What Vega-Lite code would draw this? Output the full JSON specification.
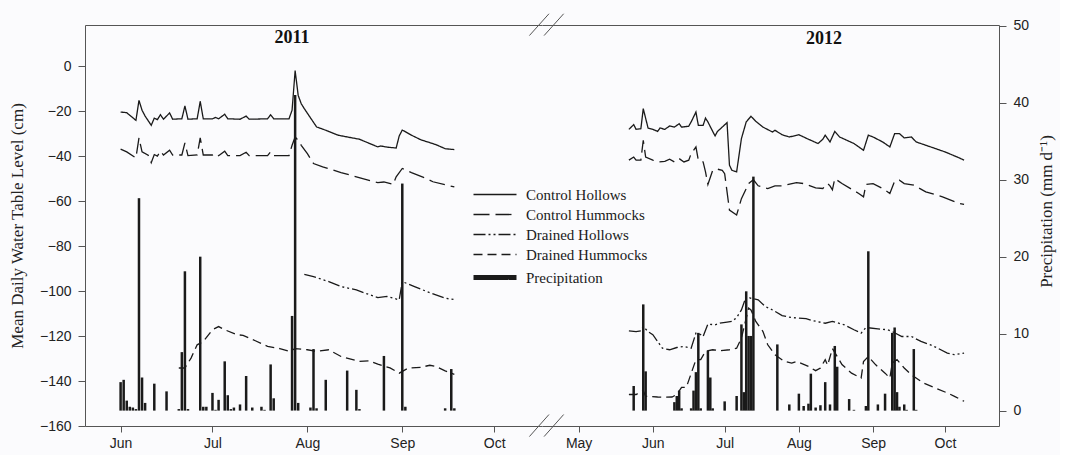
{
  "$schema": "https://vega.github.io/schema/vega-lite/v6.json",
  "background": "#fbfbfd",
  "padding": {"left": 8, "top": 13, "right": 5, "bottom": 5},
  "spacing": 0,
  "bounds": "flush",
  "config": {
    "view": {"stroke": null},
    "font": "Liberation Sans",
    "axis": {"grid": false, "domainColor": "#555", "tickColor": "#555", "labelColor": "#222", "labelFont": "Liberation Sans", "labelFontSize": 14, "titleFont": "Liberation Serif", "titleFontWeight": "normal", "titleColor": "#222", "titleFontSize": 17}
  },
  "datasets": {
    "wt2011": [
      {"d":"2011-06-01","s":"Control Hollows","v":-20.4},{"d":"2011-06-03","s":"Control Hollows","v":-20.7},{"d":"2011-06-06","s":"Control Hollows","v":-24.1},{"d":"2011-06-07","s":"Control Hollows","v":-15.2},{"d":"2011-06-08","s":"Control Hollows","v":-19.6},{"d":"2011-06-09","s":"Control Hollows","v":-22.2},{"d":"2011-06-11","s":"Control Hollows","v":-26.3},{"d":"2011-06-12","s":"Control Hollows","v":-23.1},{"d":"2011-06-13","s":"Control Hollows","v":-23.8},{"d":"2011-06-14","s":"Control Hollows","v":-21.6},{"d":"2011-06-15","s":"Control Hollows","v":-23.6},{"d":"2011-06-17","s":"Control Hollows","v":-20.8},{"d":"2011-06-18","s":"Control Hollows","v":-23.6},{"d":"2011-06-21","s":"Control Hollows","v":-23.4},{"d":"2011-06-22","s":"Control Hollows","v":-17.7},{"d":"2011-06-23","s":"Control Hollows","v":-23.6},{"d":"2011-06-26","s":"Control Hollows","v":-23.4},{"d":"2011-06-27","s":"Control Hollows","v":-15.7},{"d":"2011-06-28","s":"Control Hollows","v":-23.4},{"d":"2011-07-01","s":"Control Hollows","v":-23.4},{"d":"2011-07-02","s":"Control Hollows","v":-22.8},{"d":"2011-07-03","s":"Control Hollows","v":-23.4},{"d":"2011-07-05","s":"Control Hollows","v":-21.4},{"d":"2011-07-06","s":"Control Hollows","v":-23.4},{"d":"2011-07-10","s":"Control Hollows","v":-23.6},{"d":"2011-07-12","s":"Control Hollows","v":-22.2},{"d":"2011-07-13","s":"Control Hollows","v":-23.6},{"d":"2011-07-19","s":"Control Hollows","v":-23.4},{"d":"2011-07-20","s":"Control Hollows","v":-21.6},{"d":"2011-07-21","s":"Control Hollows","v":-23.4},{"d":"2011-07-26","s":"Control Hollows","v":-23.4},{"d":"2011-07-27","s":"Control Hollows","v":-19.6},{"d":"2011-07-28","s":"Control Hollows","v":-2.0},{"d":"2011-07-29","s":"Control Hollows","v":-13.0},{"d":"2011-07-30","s":"Control Hollows","v":-16.7},{"d":"2011-07-31","s":"Control Hollows","v":-18.9},{"d":"2011-08-04","s":"Control Hollows","v":-27.0},{"d":"2011-08-07","s":"Control Hollows","v":-28.5},{"d":"2011-08-11","s":"Control Hollows","v":-30.7},{"d":"2011-08-18","s":"Control Hollows","v":-32.5},{"d":"2011-08-24","s":"Control Hollows","v":-35.9},{"d":"2011-08-25","s":"Control Hollows","v":-35.5},{"d":"2011-08-27","s":"Control Hollows","v":-36.0},{"d":"2011-08-30","s":"Control Hollows","v":-36.4},{"d":"2011-08-31","s":"Control Hollows","v":-31.0},{"d":"2011-09-01","s":"Control Hollows","v":-28.4},{"d":"2011-09-04","s":"Control Hollows","v":-30.7},{"d":"2011-09-07","s":"Control Hollows","v":-32.7},{"d":"2011-09-12","s":"Control Hollows","v":-34.9},{"d":"2011-09-15","s":"Control Hollows","v":-36.7},{"d":"2011-09-18","s":"Control Hollows","v":-37.1},
      {"d":"2011-06-01","s":"Control Hummocks","v":-36.9},{"d":"2011-06-03","s":"Control Hummocks","v":-38.1},{"d":"2011-06-06","s":"Control Hummocks","v":-40.8},{"d":"2011-06-07","s":"Control Hummocks","v":-31.9},{"d":"2011-06-08","s":"Control Hummocks","v":-38.1},{"d":"2011-06-10","s":"Control Hummocks","v":-39.6},{"d":"2011-06-11","s":"Control Hummocks","v":-42.9},{"d":"2011-06-12","s":"Control Hummocks","v":-39.3},{"d":"2011-06-13","s":"Control Hummocks","v":-40.0},{"d":"2011-06-14","s":"Control Hummocks","v":-37.8},{"d":"2011-06-15","s":"Control Hummocks","v":-39.5},{"d":"2011-06-17","s":"Control Hummocks","v":-37.4},{"d":"2011-06-18","s":"Control Hummocks","v":-39.5},{"d":"2011-06-21","s":"Control Hummocks","v":-39.5},{"d":"2011-06-22","s":"Control Hummocks","v":-34.1},{"d":"2011-06-23","s":"Control Hummocks","v":-39.8},{"d":"2011-06-26","s":"Control Hummocks","v":-39.5},{"d":"2011-06-27","s":"Control Hummocks","v":-31.9},{"d":"2011-06-28","s":"Control Hummocks","v":-39.5},{"d":"2011-07-01","s":"Control Hummocks","v":-39.5},{"d":"2011-07-02","s":"Control Hummocks","v":-38.8},{"d":"2011-07-03","s":"Control Hummocks","v":-39.8},{"d":"2011-07-05","s":"Control Hummocks","v":-37.8},{"d":"2011-07-06","s":"Control Hummocks","v":-39.8},{"d":"2011-07-10","s":"Control Hummocks","v":-39.8},{"d":"2011-07-12","s":"Control Hummocks","v":-38.3},{"d":"2011-07-13","s":"Control Hummocks","v":-39.8},{"d":"2011-07-19","s":"Control Hummocks","v":-39.8},{"d":"2011-07-20","s":"Control Hummocks","v":-38.1},{"d":"2011-07-21","s":"Control Hummocks","v":-39.8},{"d":"2011-07-26","s":"Control Hummocks","v":-39.8},{"d":"2011-07-27","s":"Control Hummocks","v":-35.2},{"d":"2011-07-28","s":"Control Hummocks","v":-31.5},{"d":"2011-07-29","s":"Control Hummocks","v":-33.0},{"d":"2011-07-30","s":"Control Hummocks","v":-35.2},{"d":"2011-08-01","s":"Control Hummocks","v":-38.9},{"d":"2011-08-03","s":"Control Hummocks","v":-43.3},{"d":"2011-08-06","s":"Control Hummocks","v":-44.8},{"d":"2011-08-12","s":"Control Hummocks","v":-47.3},{"d":"2011-08-17","s":"Control Hummocks","v":-49.2},{"d":"2011-08-24","s":"Control Hummocks","v":-51.8},{"d":"2011-08-26","s":"Control Hummocks","v":-51.5},{"d":"2011-08-29","s":"Control Hummocks","v":-52.6},{"d":"2011-08-30","s":"Control Hummocks","v":-49.2},{"d":"2011-09-01","s":"Control Hummocks","v":-45.5},{"d":"2011-09-04","s":"Control Hummocks","v":-47.3},{"d":"2011-09-09","s":"Control Hummocks","v":-50.0},{"d":"2011-09-11","s":"Control Hummocks","v":-51.4},{"d":"2011-09-18","s":"Control Hummocks","v":-53.7},
      {"d":"2011-07-31","s":"Drained Hollows","v":-92.6},{"d":"2011-08-03","s":"Drained Hollows","v":-93.6},{"d":"2011-08-08","s":"Drained Hollows","v":-95.8},{"d":"2011-08-12","s":"Drained Hollows","v":-98.0},{"d":"2011-08-17","s":"Drained Hollows","v":-99.5},{"d":"2011-08-20","s":"Drained Hollows","v":-101.0},{"d":"2011-08-24","s":"Drained Hollows","v":-102.9},{"d":"2011-08-27","s":"Drained Hollows","v":-102.4},{"d":"2011-08-31","s":"Drained Hollows","v":-103.9},{"d":"2011-09-01","s":"Drained Hollows","v":-95.8},{"d":"2011-09-05","s":"Drained Hollows","v":-98.0},{"d":"2011-09-09","s":"Drained Hollows","v":-100.2},{"d":"2011-09-15","s":"Drained Hollows","v":-103.2},{"d":"2011-09-18","s":"Drained Hollows","v":-103.8},
      {"d":"2011-06-20","s":"Drained Hummocks","v":-134.2},{"d":"2011-06-22","s":"Drained Hummocks","v":-134.2},{"d":"2011-06-24","s":"Drained Hummocks","v":-129.8},{"d":"2011-06-26","s":"Drained Hummocks","v":-123.9},{"d":"2011-06-28","s":"Drained Hummocks","v":-122.4},{"d":"2011-07-01","s":"Drained Hummocks","v":-117.2},{"d":"2011-07-03","s":"Drained Hummocks","v":-115.8},{"d":"2011-07-05","s":"Drained Hummocks","v":-117.2},{"d":"2011-07-09","s":"Drained Hummocks","v":-119.4},{"d":"2011-07-11","s":"Drained Hummocks","v":-119.7},{"d":"2011-07-15","s":"Drained Hummocks","v":-122.1},{"d":"2011-07-19","s":"Drained Hummocks","v":-124.6},{"d":"2011-07-23","s":"Drained Hummocks","v":-125.6},{"d":"2011-07-26","s":"Drained Hummocks","v":-126.8},{"d":"2011-07-28","s":"Drained Hummocks","v":-125.6},{"d":"2011-08-01","s":"Drained Hummocks","v":-126.1},{"d":"2011-08-04","s":"Drained Hummocks","v":-126.8},{"d":"2011-08-08","s":"Drained Hummocks","v":-126.1},{"d":"2011-08-12","s":"Drained Hummocks","v":-129.1},{"d":"2011-08-18","s":"Drained Hummocks","v":-131.3},{"d":"2011-08-21","s":"Drained Hummocks","v":-131.0},{"d":"2011-08-24","s":"Drained Hummocks","v":-132.5},{"d":"2011-08-28","s":"Drained Hummocks","v":-134.2},{"d":"2011-08-31","s":"Drained Hummocks","v":-136.5},{"d":"2011-09-03","s":"Drained Hummocks","v":-134.2},{"d":"2011-09-07","s":"Drained Hummocks","v":-133.9},{"d":"2011-09-10","s":"Drained Hummocks","v":-133.0},{"d":"2011-09-12","s":"Drained Hummocks","v":-133.5},{"d":"2011-09-15","s":"Drained Hummocks","v":-135.5},{"d":"2011-09-18","s":"Drained Hummocks","v":-137.0}
    ],
    "wt2012": [
      {"d":"2012-05-22","s":"Control Hollows","v":-28.1},{"d":"2012-05-24","s":"Control Hollows","v":-26.0},{"d":"2012-05-25","s":"Control Hollows","v":-28.1},{"d":"2012-05-27","s":"Control Hollows","v":-27.8},{"d":"2012-05-28","s":"Control Hollows","v":-18.9},{"d":"2012-05-30","s":"Control Hollows","v":-27.5},{"d":"2012-06-01","s":"Control Hollows","v":-28.1},{"d":"2012-06-03","s":"Control Hollows","v":-29.0},{"d":"2012-06-04","s":"Control Hollows","v":-27.5},{"d":"2012-06-06","s":"Control Hollows","v":-28.1},{"d":"2012-06-08","s":"Control Hollows","v":-26.6},{"d":"2012-06-10","s":"Control Hollows","v":-27.1},{"d":"2012-06-12","s":"Control Hollows","v":-25.6},{"d":"2012-06-13","s":"Control Hollows","v":-27.1},{"d":"2012-06-16","s":"Control Hollows","v":-26.7},{"d":"2012-06-17","s":"Control Hollows","v":-24.8},{"d":"2012-06-19","s":"Control Hollows","v":-20.4},{"d":"2012-06-20","s":"Control Hollows","v":-26.3},{"d":"2012-06-22","s":"Control Hollows","v":-26.3},{"d":"2012-06-23","s":"Control Hollows","v":-23.1},{"d":"2012-06-24","s":"Control Hollows","v":-24.8},{"d":"2012-06-26","s":"Control Hollows","v":-29.0},{"d":"2012-06-27","s":"Control Hollows","v":-31.0},{"d":"2012-06-28","s":"Control Hollows","v":-29.0},{"d":"2012-06-30","s":"Control Hollows","v":-27.1},{"d":"2012-07-02","s":"Control Hollows","v":-25.1},{"d":"2012-07-03","s":"Control Hollows","v":-44.0},{"d":"2012-07-04","s":"Control Hollows","v":-46.3},{"d":"2012-07-06","s":"Control Hollows","v":-47.0},{"d":"2012-07-08","s":"Control Hollows","v":-32.2},{"d":"2012-07-10","s":"Control Hollows","v":-24.8},{"d":"2012-07-12","s":"Control Hollows","v":-22.3},{"d":"2012-07-14","s":"Control Hollows","v":-24.5},{"d":"2012-07-17","s":"Control Hollows","v":-27.1},{"d":"2012-07-21","s":"Control Hollows","v":-29.3},{"d":"2012-07-22","s":"Control Hollows","v":-28.5},{"d":"2012-07-25","s":"Control Hollows","v":-30.5},{"d":"2012-07-28","s":"Control Hollows","v":-31.5},{"d":"2012-08-01","s":"Control Hollows","v":-30.5},{"d":"2012-08-03","s":"Control Hollows","v":-31.5},{"d":"2012-08-05","s":"Control Hollows","v":-32.5},{"d":"2012-08-09","s":"Control Hollows","v":-34.4},{"d":"2012-08-11","s":"Control Hollows","v":-32.5},{"d":"2012-08-12","s":"Control Hollows","v":-30.7},{"d":"2012-08-14","s":"Control Hollows","v":-33.7},{"d":"2012-08-16","s":"Control Hollows","v":-29.0},{"d":"2012-08-18","s":"Control Hollows","v":-31.5},{"d":"2012-08-24","s":"Control Hollows","v":-34.4},{"d":"2012-08-28","s":"Control Hollows","v":-37.4},{"d":"2012-08-30","s":"Control Hollows","v":-30.7},{"d":"2012-09-01","s":"Control Hollows","v":-31.5},{"d":"2012-09-05","s":"Control Hollows","v":-33.7},{"d":"2012-09-08","s":"Control Hollows","v":-35.9},{"d":"2012-09-10","s":"Control Hollows","v":-30.0},{"d":"2012-09-12","s":"Control Hollows","v":-30.0},{"d":"2012-09-14","s":"Control Hollows","v":-31.9},{"d":"2012-09-17","s":"Control Hollows","v":-31.5},{"d":"2012-09-19","s":"Control Hollows","v":-33.7},{"d":"2012-10-01","s":"Control Hollows","v":-38.1},{"d":"2012-10-07","s":"Control Hollows","v":-40.8},{"d":"2012-10-09","s":"Control Hollows","v":-41.8},
      {"d":"2012-05-22","s":"Control Hummocks","v":-41.8},{"d":"2012-05-24","s":"Control Hummocks","v":-40.4},{"d":"2012-05-25","s":"Control Hummocks","v":-41.8},{"d":"2012-05-27","s":"Control Hummocks","v":-41.8},{"d":"2012-05-28","s":"Control Hummocks","v":-33.0},{"d":"2012-05-29","s":"Control Hummocks","v":-40.4},{"d":"2012-06-01","s":"Control Hummocks","v":-41.8},{"d":"2012-06-03","s":"Control Hummocks","v":-42.6},{"d":"2012-06-06","s":"Control Hummocks","v":-42.3},{"d":"2012-06-08","s":"Control Hummocks","v":-41.4},{"d":"2012-06-10","s":"Control Hummocks","v":-42.6},{"d":"2012-06-12","s":"Control Hummocks","v":-41.1},{"d":"2012-06-14","s":"Control Hummocks","v":-42.6},{"d":"2012-06-16","s":"Control Hummocks","v":-41.8},{"d":"2012-06-17","s":"Control Hummocks","v":-38.9},{"d":"2012-06-19","s":"Control Hummocks","v":-35.9},{"d":"2012-06-20","s":"Control Hummocks","v":-41.8},{"d":"2012-06-22","s":"Control Hummocks","v":-42.6},{"d":"2012-06-23","s":"Control Hummocks","v":-47.0},{"d":"2012-06-24","s":"Control Hummocks","v":-52.6},{"d":"2012-06-26","s":"Control Hummocks","v":-46.3},{"d":"2012-06-28","s":"Control Hummocks","v":-45.8},{"d":"2012-06-30","s":"Control Hummocks","v":-46.3},{"d":"2012-07-01","s":"Control Hummocks","v":-47.8},{"d":"2012-07-03","s":"Control Hummocks","v":-64.0},{"d":"2012-07-06","s":"Control Hummocks","v":-66.2},{"d":"2012-07-08","s":"Control Hummocks","v":-58.9},{"d":"2012-07-11","s":"Control Hummocks","v":-52.2},{"d":"2012-07-13","s":"Control Hummocks","v":-50.5},{"d":"2012-07-15","s":"Control Hummocks","v":-53.2},{"d":"2012-07-19","s":"Control Hummocks","v":-54.4},{"d":"2012-07-22","s":"Control Hummocks","v":-53.2},{"d":"2012-07-25","s":"Control Hummocks","v":-53.2},{"d":"2012-07-31","s":"Control Hummocks","v":-51.8},{"d":"2012-08-03","s":"Control Hummocks","v":-52.2},{"d":"2012-08-08","s":"Control Hummocks","v":-54.1},{"d":"2012-08-11","s":"Control Hummocks","v":-54.4},{"d":"2012-08-13","s":"Control Hummocks","v":-52.2},{"d":"2012-08-14","s":"Control Hummocks","v":-53.2},{"d":"2012-08-15","s":"Control Hummocks","v":-55.0},{"d":"2012-08-16","s":"Control Hummocks","v":-50.0},{"d":"2012-08-19","s":"Control Hummocks","v":-52.2},{"d":"2012-08-23","s":"Control Hummocks","v":-54.7},{"d":"2012-08-26","s":"Control Hummocks","v":-56.6},{"d":"2012-08-28","s":"Control Hummocks","v":-58.1},{"d":"2012-08-29","s":"Control Hummocks","v":-52.6},{"d":"2012-09-01","s":"Control Hummocks","v":-52.2},{"d":"2012-09-05","s":"Control Hummocks","v":-54.4},{"d":"2012-09-08","s":"Control Hummocks","v":-56.6},{"d":"2012-09-10","s":"Control Hummocks","v":-51.1},{"d":"2012-09-12","s":"Control Hummocks","v":-50.7},{"d":"2012-09-14","s":"Control Hummocks","v":-52.2},{"d":"2012-09-18","s":"Control Hummocks","v":-52.9},{"d":"2012-09-23","s":"Control Hummocks","v":-55.9},{"d":"2012-09-30","s":"Control Hummocks","v":-58.1},{"d":"2012-10-07","s":"Control Hummocks","v":-61.1},{"d":"2012-10-09","s":"Control Hummocks","v":-61.5},
      {"d":"2012-05-22","s":"Drained Hollows","v":-117.7},{"d":"2012-05-25","s":"Drained Hollows","v":-118.0},{"d":"2012-05-27","s":"Drained Hollows","v":-117.7},{"d":"2012-05-28","s":"Drained Hollows","v":-115.8},{"d":"2012-05-30","s":"Drained Hollows","v":-118.0},{"d":"2012-06-01","s":"Drained Hollows","v":-119.4},{"d":"2012-06-03","s":"Drained Hollows","v":-122.4},{"d":"2012-06-05","s":"Drained Hollows","v":-125.4},{"d":"2012-06-08","s":"Drained Hollows","v":-126.1},{"d":"2012-06-11","s":"Drained Hollows","v":-125.1},{"d":"2012-06-14","s":"Drained Hollows","v":-124.6},{"d":"2012-06-17","s":"Drained Hollows","v":-125.4},{"d":"2012-06-19","s":"Drained Hollows","v":-118.7},{"d":"2012-06-21","s":"Drained Hollows","v":-119.4},{"d":"2012-06-22","s":"Drained Hollows","v":-120.2},{"d":"2012-06-24","s":"Drained Hollows","v":-114.7},{"d":"2012-06-27","s":"Drained Hollows","v":-115.0},{"d":"2012-06-29","s":"Drained Hollows","v":-114.3},{"d":"2012-07-02","s":"Drained Hollows","v":-113.8},{"d":"2012-07-04","s":"Drained Hollows","v":-113.5},{"d":"2012-07-06","s":"Drained Hollows","v":-111.8},{"d":"2012-07-08","s":"Drained Hollows","v":-108.4},{"d":"2012-07-10","s":"Drained Hollows","v":-102.4},{"d":"2012-07-12","s":"Drained Hollows","v":-103.2},{"d":"2012-07-15","s":"Drained Hollows","v":-103.9},{"d":"2012-07-18","s":"Drained Hollows","v":-106.9},{"d":"2012-07-21","s":"Drained Hollows","v":-108.4},{"d":"2012-07-25","s":"Drained Hollows","v":-110.9},{"d":"2012-07-29","s":"Drained Hollows","v":-111.8},{"d":"2012-08-04","s":"Drained Hollows","v":-112.3},{"d":"2012-08-07","s":"Drained Hollows","v":-113.2},{"d":"2012-08-12","s":"Drained Hollows","v":-114.3},{"d":"2012-08-15","s":"Drained Hollows","v":-113.5},{"d":"2012-08-20","s":"Drained Hollows","v":-115.0},{"d":"2012-08-24","s":"Drained Hollows","v":-117.2},{"d":"2012-08-27","s":"Drained Hollows","v":-118.7},{"d":"2012-08-29","s":"Drained Hollows","v":-116.2},{"d":"2012-09-03","s":"Drained Hollows","v":-116.8},{"d":"2012-09-07","s":"Drained Hollows","v":-117.2},{"d":"2012-09-09","s":"Drained Hollows","v":-118.0},{"d":"2012-09-13","s":"Drained Hollows","v":-120.2},{"d":"2012-09-17","s":"Drained Hollows","v":-120.2},{"d":"2012-09-21","s":"Drained Hollows","v":-122.4},{"d":"2012-09-25","s":"Drained Hollows","v":-123.9},{"d":"2012-09-28","s":"Drained Hollows","v":-125.4},{"d":"2012-10-02","s":"Drained Hollows","v":-127.6},{"d":"2012-10-05","s":"Drained Hollows","v":-128.3},{"d":"2012-10-09","s":"Drained Hollows","v":-127.6},
      {"d":"2012-05-22","s":"Drained Hummocks","v":-146.0},{"d":"2012-05-25","s":"Drained Hummocks","v":-146.0},{"d":"2012-05-28","s":"Drained Hummocks","v":-144.3},{"d":"2012-05-29","s":"Drained Hummocks","v":-146.8},{"d":"2012-06-03","s":"Drained Hummocks","v":-147.1},{"d":"2012-06-06","s":"Drained Hummocks","v":-147.2},{"d":"2012-06-09","s":"Drained Hummocks","v":-147.1},{"d":"2012-06-11","s":"Drained Hummocks","v":-146.0},{"d":"2012-06-13","s":"Drained Hummocks","v":-142.8},{"d":"2012-06-15","s":"Drained Hummocks","v":-142.8},{"d":"2012-06-19","s":"Drained Hummocks","v":-130.5},{"d":"2012-06-21","s":"Drained Hummocks","v":-130.5},{"d":"2012-06-23","s":"Drained Hummocks","v":-126.8},{"d":"2012-06-26","s":"Drained Hummocks","v":-126.1},{"d":"2012-06-29","s":"Drained Hummocks","v":-126.5},{"d":"2012-07-03","s":"Drained Hummocks","v":-126.1},{"d":"2012-07-06","s":"Drained Hummocks","v":-125.4},{"d":"2012-07-08","s":"Drained Hummocks","v":-120.9},{"d":"2012-07-09","s":"Drained Hummocks","v":-116.5},{"d":"2012-07-11","s":"Drained Hummocks","v":-107.6},{"d":"2012-07-12","s":"Drained Hummocks","v":-108.4},{"d":"2012-07-14","s":"Drained Hummocks","v":-113.5},{"d":"2012-07-17","s":"Drained Hummocks","v":-118.0},{"d":"2012-07-19","s":"Drained Hummocks","v":-123.9},{"d":"2012-07-22","s":"Drained Hummocks","v":-128.3},{"d":"2012-07-26","s":"Drained Hummocks","v":-131.3},{"d":"2012-07-29","s":"Drained Hummocks","v":-132.0},{"d":"2012-07-31","s":"Drained Hummocks","v":-131.3},{"d":"2012-08-05","s":"Drained Hummocks","v":-133.5},{"d":"2012-08-08","s":"Drained Hummocks","v":-135.4},{"d":"2012-08-10","s":"Drained Hummocks","v":-134.2},{"d":"2012-08-12","s":"Drained Hummocks","v":-130.5},{"d":"2012-08-13","s":"Drained Hummocks","v":-133.0},{"d":"2012-08-15","s":"Drained Hummocks","v":-125.6},{"d":"2012-08-17","s":"Drained Hummocks","v":-129.1},{"d":"2012-08-19","s":"Drained Hummocks","v":-132.7},{"d":"2012-08-23","s":"Drained Hummocks","v":-136.5},{"d":"2012-08-27","s":"Drained Hummocks","v":-138.7},{"d":"2012-08-28","s":"Drained Hummocks","v":-131.3},{"d":"2012-08-30","s":"Drained Hummocks","v":-129.1},{"d":"2012-09-02","s":"Drained Hummocks","v":-132.7},{"d":"2012-09-06","s":"Drained Hummocks","v":-136.5},{"d":"2012-09-08","s":"Drained Hummocks","v":-138.7},{"d":"2012-09-09","s":"Drained Hummocks","v":-132.0},{"d":"2012-09-11","s":"Drained Hummocks","v":-130.5},{"d":"2012-09-14","s":"Drained Hummocks","v":-134.2},{"d":"2012-09-17","s":"Drained Hummocks","v":-137.2},{"d":"2012-09-22","s":"Drained Hummocks","v":-140.9},{"d":"2012-09-27","s":"Drained Hummocks","v":-143.1},{"d":"2012-10-02","s":"Drained Hummocks","v":-145.3},{"d":"2012-10-05","s":"Drained Hummocks","v":-146.8},{"d":"2012-10-09","s":"Drained Hummocks","v":-149.0}
    ],
    "pr2011": [
      {"d":"2011-06-01","p":3.7},{"d":"2011-06-02","p":4.0},{"d":"2011-06-03","p":1.3},{"d":"2011-06-04","p":0.5},{"d":"2011-06-05","p":0.4},{"d":"2011-06-06","p":0.2},{"d":"2011-06-07","p":27.6},{"d":"2011-06-08","p":4.3},{"d":"2011-06-09","p":1.0},{"d":"2011-06-12","p":3.5},{"d":"2011-06-16","p":2.5},{"d":"2011-06-20","p":0.2},{"d":"2011-06-21","p":7.6},{"d":"2011-06-22","p":18.1},{"d":"2011-06-23","p":0.2},{"d":"2011-06-27","p":20.0},{"d":"2011-06-28","p":0.5},{"d":"2011-06-29","p":0.5},{"d":"2011-07-01","p":2.3},{"d":"2011-07-02","p":0.1},{"d":"2011-07-03","p":1.4},{"d":"2011-07-05","p":6.4},{"d":"2011-07-06","p":2.0},{"d":"2011-07-07","p":0.2},{"d":"2011-07-08","p":0.4},{"d":"2011-07-10","p":0.8},{"d":"2011-07-12","p":4.5},{"d":"2011-07-14","p":0.4},{"d":"2011-07-17","p":0.5},{"d":"2011-07-18","p":0.1},{"d":"2011-07-20","p":6.0},{"d":"2011-07-21","p":1.6},{"d":"2011-07-27","p":12.3},{"d":"2011-07-28","p":41.0},{"d":"2011-07-29","p":1.0},{"d":"2011-08-02","p":0.4},{"d":"2011-08-03","p":8.0},{"d":"2011-08-04","p":0.3},{"d":"2011-08-07","p":4.0},{"d":"2011-08-14","p":5.2},{"d":"2011-08-17","p":2.7},{"d":"2011-08-18","p":0.2},{"d":"2011-08-26","p":7.1},{"d":"2011-09-01","p":29.5},{"d":"2011-09-02","p":0.5},{"d":"2011-09-15","p":0.3},{"d":"2011-09-17","p":5.4},{"d":"2011-09-18","p":0.3}
    ],
    "pr2012": [
      {"d":"2012-05-24","p":3.2},{"d":"2012-05-28","p":13.8},{"d":"2012-05-29","p":5.1},{"d":"2012-06-10","p":1.1},{"d":"2012-06-11","p":1.9},{"d":"2012-06-12","p":2.6},{"d":"2012-06-13","p":0.3},{"d":"2012-06-17","p":0.3},{"d":"2012-06-18","p":2.6},{"d":"2012-06-19","p":5.0},{"d":"2012-06-20","p":10.1},{"d":"2012-06-21","p":0.3},{"d":"2012-06-24","p":7.8},{"d":"2012-06-25","p":4.3},{"d":"2012-06-26","p":0.3},{"d":"2012-07-01","p":1.2},{"d":"2012-07-06","p":1.9},{"d":"2012-07-08","p":11.2},{"d":"2012-07-09","p":2.4},{"d":"2012-07-10","p":15.5},{"d":"2012-07-11","p":9.7},{"d":"2012-07-12","p":9.7},{"d":"2012-07-13","p":30.4},{"d":"2012-07-23","p":8.6},{"d":"2012-07-28","p":0.8},{"d":"2012-08-01","p":2.2},{"d":"2012-08-03","p":0.6},{"d":"2012-08-05","p":0.9},{"d":"2012-08-06","p":4.8},{"d":"2012-08-08","p":0.4},{"d":"2012-08-10","p":0.7},{"d":"2012-08-12","p":3.7},{"d":"2012-08-14","p":0.8},{"d":"2012-08-16","p":8.4},{"d":"2012-08-17","p":5.7},{"d":"2012-08-22","p":1.5},{"d":"2012-08-24","p":0.1},{"d":"2012-08-29","p":0.6},{"d":"2012-08-30","p":20.7},{"d":"2012-09-03","p":0.8},{"d":"2012-09-06","p":2.2},{"d":"2012-09-09","p":10.1},{"d":"2012-09-10","p":10.8},{"d":"2012-09-11","p":2.4},{"d":"2012-09-12","p":0.5},{"d":"2012-09-14","p":0.8},{"d":"2012-09-15","p":0.1},{"d":"2012-09-18","p":8.0},{"d":"2012-09-19","p":0.1}
    ],
    "brk": [
      {"a":"2012-04-10T10:34:00Z","b":"2012-04-18T14:53:00Z","y1":-164.7,"y2":-154.9},
      {"a":"2012-04-16T13:41:00Z","b":"2012-04-24T18:00:00Z","y1":-164.7,"y2":-154.9},
      {"a":"2012-04-10T10:34:00Z","b":"2012-04-18T14:53:00Z","y1":13.6,"y2":23.3},
      {"a":"2012-04-16T13:41:00Z","b":"2012-04-24T18:00:00Z","y1":13.6,"y2":23.3}
    ]
  },
  "hconcat": [
    {
      "width": 457, "height": 401,
      "title": {"text": "2011", "font": "Liberation Serif", "fontSize": 18, "fontWeight": "bold", "color": "#111", "offset": -22, "dx": -21.5, "anchor": "middle"},
      "layer": [
        {
          "data": {"name": "wt2011"},
          "mark": {"type": "line", "strokeWidth": 1.3, "color": "#1a1a1a"},
          "encoding": {
            "x": {"field": "d", "type": "temporal", "scale": {"type": "utc", "domain": [{"year":2011,"month":5,"date":22,"utc":true},{"year":2011,"month":10,"date":15,"utc":true}]},
                  "axis": {"orient": "bottom", "title": null, "format": "%b", "tickSize": 6, "labelPadding": 4, "values": [{"year":2011,"month":6,"date":1,"utc":true},{"year":2011,"month":7,"date":1,"utc":true},{"year":2011,"month":8,"date":1,"utc":true},{"year":2011,"month":9,"date":1,"utc":true},{"year":2011,"month":10,"date":1,"utc":true}]}},
            "y": {"field": "v", "type": "quantitative", "scale": {"domain": [-160, 18.3], "nice": false, "zero": false},
                  "axis": {"orient": "left", "values": [-160,-140,-120,-100,-80,-60,-40,-20,0], "tickSize": 7, "labelPadding": 7, "title": "Mean Daily Water Table Level (cm)", "titlePadding": 13}},
            "strokeDash": {"field": "s", "type": "nominal",
                  "scale": {"domain": ["Control Hollows","Control Hummocks","Drained Hollows","Drained Hummocks","Precipitation"], "range": [[1,0],[16,6],[12,3,2,3,2,3],[9,5],[1,0]]},
                  "legend": {"orient": "none", "legendX": 402.5, "legendY": 162, "title": null, "symbolType": "stroke", "symbolSize": 1849, "symbolStrokeWidth": 1.3, "symbolStrokeColor": "#1a1a1a", "labelFont": "Liberation Serif", "labelFontSize": 15, "labelColor": "#1a1a1a", "labelOffset": 23.5, "rowPadding": 4, "padding": 0,
                             "encode": {"symbols": {"update": {"strokeWidth": {"signal": "datum.value === 'Precipitation' ? 5 : 1.3"}}}}}}
          }
        },
        {
          "data": {"name": "pr2011"},
          "mark": {"type": "bar", "width": 2.5, "color": "#1a1a1a"},
          "encoding": {
            "x": {"field": "d", "type": "temporal", "scale": {"type": "utc", "domain": [{"year":2011,"month":5,"date":22,"utc":true},{"year":2011,"month":10,"date":15,"utc":true}]},
                  "axis": {"orient": "top", "title": null, "labels": false, "ticks": false}},
            "y": {"field": "p", "type": "quantitative", "scale": {"domain": [-2, 50.1], "nice": false}, "axis": null}
          }
        }
      ],
      "resolve": {"scale": {"y": "independent"}, "axis": {"x": "independent"}}
    },
    {
      "width": 457, "height": 401,
      "title": {"text": "2012", "font": "Liberation Serif", "fontSize": 18, "fontWeight": "bold", "color": "#111", "offset": -35, "dx": 53.5, "anchor": "middle"},
      "layer": [
        {
          "data": {"name": "wt2012"},
          "mark": {"type": "line", "strokeWidth": 1.3, "color": "#1a1a1a"},
          "encoding": {
            "x": {"field": "d", "type": "temporal", "scale": {"type": "utc", "domain": [{"year":2012,"month":4,"date":17,"hours":19,"utc":true},{"year":2012,"month":10,"date":21,"hours":12,"utc":true}]},
                  "axis": {"orient": "bottom", "title": null, "format": "%b", "tickSize": 6, "labelPadding": 4, "values": [{"year":2012,"month":5,"date":1,"utc":true},{"year":2012,"month":6,"date":1,"utc":true},{"year":2012,"month":7,"date":1,"utc":true},{"year":2012,"month":8,"date":1,"utc":true},{"year":2012,"month":9,"date":1,"utc":true},{"year":2012,"month":10,"date":1,"utc":true}]}},
            "y": {"field": "v", "type": "quantitative", "scale": {"domain": [-160, 18.3], "nice": false, "zero": false}, "axis": null},
            "strokeDash": {"field": "s", "type": "nominal",
                  "scale": {"domain": ["Control Hollows","Control Hummocks","Drained Hollows","Drained Hummocks","Precipitation"], "range": [[1,0],[16,6],[12,3,2,3,2,3],[9,5],[1,0]]},
                  "legend": {"orient": "none", "legendX": 402.5, "legendY": 162, "title": null, "symbolType": "stroke", "symbolSize": 1849, "symbolStrokeWidth": 1.3, "symbolStrokeColor": "#1a1a1a", "labelFont": "Liberation Serif", "labelFontSize": 15, "labelColor": "#1a1a1a", "labelOffset": 23.5, "rowPadding": 4, "padding": 0,
                             "encode": {"symbols": {"update": {"strokeWidth": {"signal": "datum.value === 'Precipitation' ? 5 : 1.3"}}}}}}
          }
        },
        {
          "data": {"name": "pr2012"},
          "mark": {"type": "bar", "width": 2.5, "color": "#1a1a1a"},
          "encoding": {
            "x": {"field": "d", "type": "temporal", "scale": {"type": "utc", "domain": [{"year":2012,"month":4,"date":17,"hours":19,"utc":true},{"year":2012,"month":10,"date":21,"hours":12,"utc":true}]},
                  "axis": {"orient": "top", "title": null, "labels": false, "ticks": false}},
            "y": {"field": "p", "type": "quantitative", "scale": {"domain": [-2, 50.1], "nice": false},
                  "axis": {"orient": "right", "values": [0,10,20,30,40,50], "tickSize": 7, "labelPadding": 7, "title": "Precipitation (mm d⁻¹)", "titlePadding": 10, "titleAngle": 270, "titleBaseline": "top", "titleY": 186}}
          }
        },
        {
          "data": {"name": "brk"},
          "mark": {"type": "rule", "color": "#555", "strokeWidth": 1, "clip": false},
          "encoding": {
            "x": {"field": "a", "type": "temporal", "scale": {"type": "utc", "domain": [{"year":2012,"month":4,"date":17,"hours":19,"utc":true},{"year":2012,"month":10,"date":21,"hours":12,"utc":true}]}, "axis": null},
            "x2": {"field": "b"},
            "y": {"field": "y1", "type": "quantitative", "scale": {"domain": [-160, 18.3], "nice": false, "zero": false}, "axis": null},
            "y2": {"field": "y2"}
          }
        }
      ],
      "resolve": {"scale": {"y": "independent"}, "axis": {"x": "independent"}}
    }
  ]
}
